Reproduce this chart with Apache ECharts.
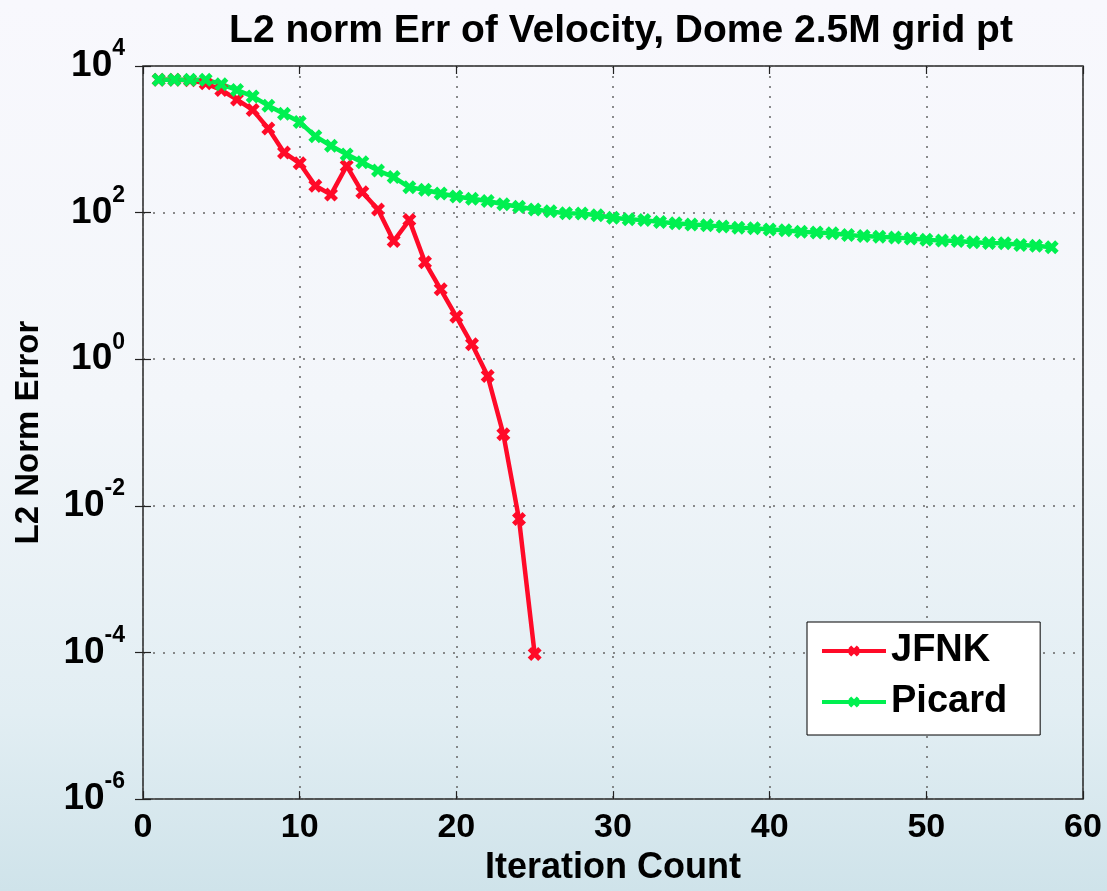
<!DOCTYPE html>
<html>
<head>
<meta charset="utf-8">
<script src="https://cdn.jsdelivr.net/npm/echarts@6/dist/echarts.min.js"></script>
<style>
    html, body {margin: 0; padding: 0;}
    body {
        width: 1107px; height: 891px;
        background: linear-gradient(180deg, #f8f8fd 0%, #f3f6fa 45%, #e2eef3 80%, #cfe3ea 100%);
    }
    #main {width: 1107px; height: 891px;}
</style>
</head>
<body>
<div id="main"></div>
<script>
// values (log scale), iteration starts at 1
let jfnkErr = [6500, 6500, 6400, 5800, 4700, 3480, 2520, 1400, 663, 471,
    233, 176, 434, 189, 110, 41, 79, 21, 9.0, 3.8,
    1.6, 0.59, 0.095, 0.0066, 0.000095];
let picardErr = [6500, 6500, 6500, 6500, 5650, 4700, 3850, 2880, 2230, 1720,
    1100, 815, 623, 486, 375, 305, 221, 205, 182, 166,
    155, 144, 130, 120, 110, 104, 98, 97, 92, 85,
    81, 79, 74.5, 71.5, 68.7, 67, 64.5, 62, 61, 59,
    57.5, 55, 53.7, 52.3, 49.5, 47.8, 47, 45.7, 44.4, 42.8,
    41.5, 41, 39.5, 38.6, 38.3, 36.3, 35.4, 33.8];
let seriesNames = ['JFNK', 'Picard'];
let seriesColors = ['#ff0a28', '#00f050'];
let xTicks = [0, 10, 20, 30, 40, 50, 60];
let yExtent = [1e-6, 1e4];

let font = "'Liberation Sans', Arial, sans-serif";
let crossMark = 'path://M0,3 L3,0 L6,3 L9,0 L12,3 L9,6 L12,9 L9,12 L6,9 L3,12 L0,9 L3,6 Z';

let toPoints = (arr) => arr.map((v, i) => [i + 1, v]);

let makeLine = (name, data, color) => {  // 折线 + x 标记
    return {
        name: name,
        type: 'line',
        data: toPoints(data),
        symbol: crossMark,
        symbolSize: 14,
        showAllSymbol: true,
        silent: true,
        animation: false,
        lineStyle: {color: color, width: 4.5},
        itemStyle: {color: color}
    }
};

let myChart = echarts.init(document.getElementById('main'), null, {renderer: 'canvas'});

let dotted = {color: '#666', width: 1.5, type: [2, 8]};
let tickStyle = {show: true, inside: true, length: 8, lineStyle: {color: '#222', width: 1.2}};

myChart.setOption({
    backgroundColor: 'transparent',
    title: {
        text: 'L2 norm Err of Velocity, Dome 2.5M grid pt',
        left: 616,
        textAlign: 'center',
        top: 7,
        textStyle: {fontFamily: font, fontSize: 39, fontWeight: 'bold', color: '#000'}
    },
    legend: {
        orient: 'vertical',
        left: 807,
        top: 622,
        padding: [10, 33, 14, 13],
        itemGap: 13,
        itemWidth: 64,
        itemHeight: 14,
        backgroundColor: '#fff',
        borderColor: '#000',
        borderWidth: 1,
        selectedMode: false,
        data: seriesNames,
        lineStyle: {width: 4},
        textStyle: {fontFamily: font, fontSize: 38, fontWeight: 'bold', color: '#000', lineHeight: 38}
    },
    grid: {
        left: 143, right: 24, top: 66, bottom: 85,
        show: true,
        borderColor: '#222',
        borderWidth: 1.5
    },
    xAxis: [{
        type: 'value',
        min: xTicks[0],
        max: xTicks[xTicks.length - 1],
        interval: 10,
        name: 'Iteration Count',
        nameLocation: 'middle',
        nameGap: 42,
        nameTextStyle: {fontFamily: font, fontSize: 36, fontWeight: 'bold', color: '#000'},
        axisLine: {show: false},
        axisTick: tickStyle,
        axisLabel: {fontFamily: font, fontSize: 34, fontWeight: 'bold', color: '#000', margin: 12},
        splitLine: {show: true, lineStyle: dotted}
    }, {
        type: 'value',
        position: 'top',
        min: xTicks[0],
        max: xTicks[xTicks.length - 1],
        interval: 10,
        axisLine: {show: false},
        axisTick: tickStyle,
        axisLabel: {show: false},
        splitLine: {show: false}
    }],
    yAxis: [{
        type: 'log',
        logBase: 10,
        min: yExtent[0],
        max: yExtent[1],
        interval: 2,
        name: 'L2 Norm Error',
        nameLocation: 'middle',
        nameGap: 98,
        nameRotate: 90,
        nameTextStyle: {fontFamily: font, fontSize: 33, fontWeight: 'bold', color: '#000'},
        axisLine: {show: false},
        axisTick: tickStyle,
        axisLabel: {
            margin: 18,
            padding: [0, 0, 20, 0],
            formatter: (v) => {
                let e = Math.round(Math.log10(v));
                return '{b|10}{e|' + e + '}';
            },
            rich: {
                b: {fontFamily: font, fontSize: 37, fontWeight: 'bold', color: '#000', lineHeight: 37, padding: [20, 0, 0, 0]},
                e: {fontFamily: font, fontSize: 23, fontWeight: 'bold', color: '#000', lineHeight: 23, verticalAlign: 'top'}
            }
        },
        splitLine: {show: true, lineStyle: dotted}
    }, {
        type: 'log',
        logBase: 10,
        position: 'right',
        min: yExtent[0],
        max: yExtent[1],
        interval: 2,
        axisLine: {show: false},
        axisTick: tickStyle,
        axisLabel: {show: false},
        splitLine: {show: false}
    }],
    series: [
        makeLine(seriesNames[0], jfnkErr, seriesColors[0]),
        makeLine(seriesNames[1], picardErr, seriesColors[1])
    ]
});
</script>
</body>
</html>
